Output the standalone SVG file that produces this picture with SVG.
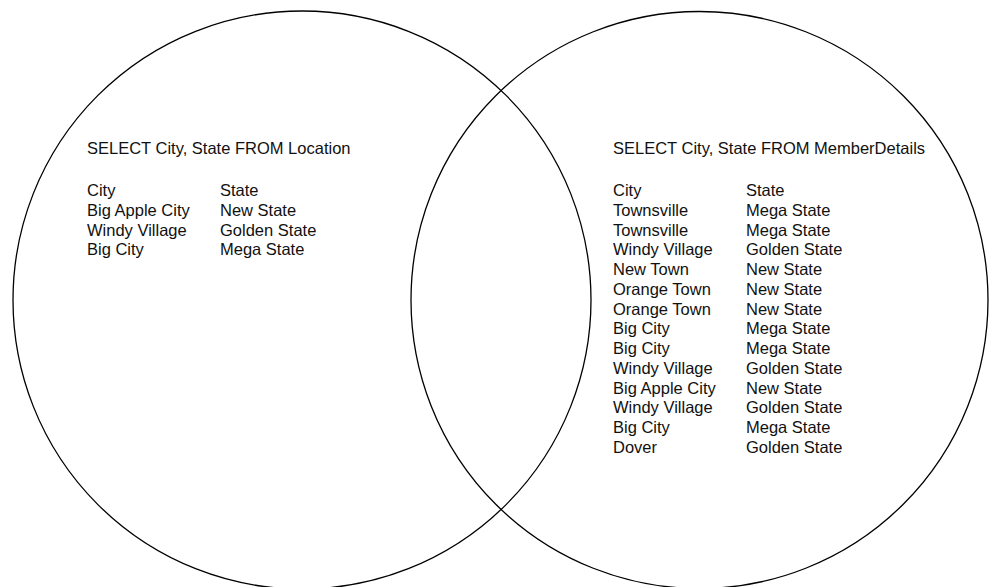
<svg xmlns="http://www.w3.org/2000/svg" width="989" height="587" viewBox="0 0 989 587">
<style>
.c{fill:none;stroke:#000;stroke-width:1.3}
text{font-family:"Liberation Sans",Arial,sans-serif;font-size:16.5px;fill:#111}
</style>
<rect width="989" height="587" fill="#fff"/>
<g id="location">
<circle class="c" cx="302" cy="300" r="289"/>
<text x="87" y="154">SELECT City, State FROM Location</text>
<text x="87" y="196"><tspan x="87">City</tspan><tspan x="87" dy="19.75">Big Apple City</tspan><tspan x="87" dy="19.75">Windy Village</tspan><tspan x="87" dy="19.75">Big City</tspan></text>
<text x="220" y="196"><tspan x="220">State</tspan><tspan x="220" dy="19.75">New State</tspan><tspan x="220" dy="19.75">Golden State</tspan><tspan x="220" dy="19.75">Mega State</tspan></text>
</g>
<g id="memberdetails">
<circle class="c" cx="699.5" cy="300" r="288.5"/>
<text x="613" y="154">SELECT City, State FROM MemberDetails</text>
<text x="613" y="196"><tspan x="613">City</tspan><tspan x="613" dy="19.75">Townsville</tspan><tspan x="613" dy="19.75">Townsville</tspan><tspan x="613" dy="19.75">Windy Village</tspan><tspan x="613" dy="19.75">New Town</tspan><tspan x="613" dy="19.75">Orange Town</tspan><tspan x="613" dy="19.75">Orange Town</tspan><tspan x="613" dy="19.75">Big City</tspan><tspan x="613" dy="19.75">Big City</tspan><tspan x="613" dy="19.75">Windy Village</tspan><tspan x="613" dy="19.75">Big Apple City</tspan><tspan x="613" dy="19.75">Windy Village</tspan><tspan x="613" dy="19.75">Big City</tspan><tspan x="613" dy="19.75">Dover</tspan></text>
<text x="746" y="196"><tspan x="746">State</tspan><tspan x="746" dy="19.75">Mega State</tspan><tspan x="746" dy="19.75">Mega State</tspan><tspan x="746" dy="19.75">Golden State</tspan><tspan x="746" dy="19.75">New State</tspan><tspan x="746" dy="19.75">New State</tspan><tspan x="746" dy="19.75">New State</tspan><tspan x="746" dy="19.75">Mega State</tspan><tspan x="746" dy="19.75">Mega State</tspan><tspan x="746" dy="19.75">Golden State</tspan><tspan x="746" dy="19.75">New State</tspan><tspan x="746" dy="19.75">Golden State</tspan><tspan x="746" dy="19.75">Mega State</tspan><tspan x="746" dy="19.75">Golden State</tspan></text>
</g>
<g id="connectors"></g>
</svg>
